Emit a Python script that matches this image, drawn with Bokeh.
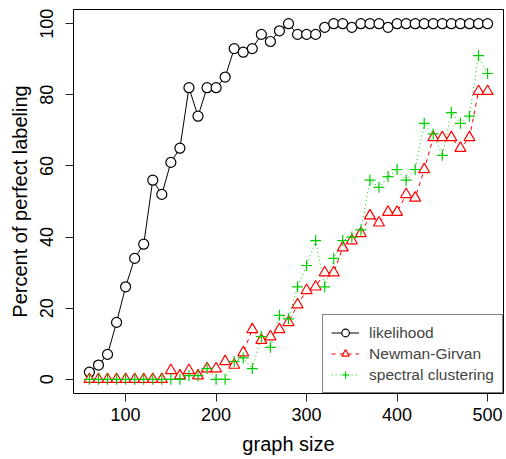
from bokeh.plotting import figure
from bokeh.models import Legend, LegendItem, Range1d, FixedTicker
from bokeh.embed import file_html
from bokeh.resources import INLINE

graph_size = [60, 70, 80, 90, 100, 110, 120, 130, 140, 150, 160, 170, 180, 190, 200,
              210, 220, 230, 240, 250, 260, 270, 280, 290, 300, 310, 320, 330, 340, 350,
              360, 370, 380, 390, 400, 410, 420, 430, 440, 450, 460, 470, 480, 490, 500]

likelihood = [2, 4, 7, 16, 26, 34, 38, 56, 52, 61, 65, 82, 74, 82, 82,
              85, 93, 92, 93, 97, 95, 98, 100, 97, 97, 97, 99, 100, 100, 99,
              100, 100, 100, 99, 100, 100, 100, 100, 100, 100, 100, 100, 100, 100, 100]

newman_girvan = [0, 0, 0, 0, 0, 0, 0, 0, 0, 2.5, 1, 2.5, 1, 3, 3,
                 5, 4, 7.5, 14, 11, 12, 14, 16, 21, 25, 26, 30, 30, 37, 39,
                 41, 46, 44, 47, 47, 52, 51, 59, 68, 68, 68, 65, 68, 81, 81]

spectral = [0, 0, 0, 0, 0, 0, 0, 0, 0, 0, 0, 1, 1, 3, 0,
            0, 5, 6, 3, 12, 9, 18, 17, 26, 32, 39, 26, 34, 39, 40,
            42, 56, 54, 57, 59, 56, 59, 72, 69, 63, 75, 72, 74, 91, 86]

x_ticks = [100, 200, 300, 400, 500]
y_ticks = [0, 20, 40, 60, 80, 100]

FONT = "Liberation Sans"
GREEN = "#00CD00"
RED = "#FF0000"

p = figure(width=506, height=459, output_backend="svg", toolbar_location=None,
           x_range=Range1d(42.4, 517.6), y_range=Range1d(-4, 104),
           min_border_left=73, min_border_right=3, min_border_top=9, min_border_bottom=66,
           x_axis_label="graph size", y_axis_label="Percent of perfect labeling")

p.grid.visible = False
p.outline_line_color = "black"
p.outline_line_width = 1
p.background_fill_color = "white"
p.border_fill_color = "white"

for ax in (p.xaxis[0], p.yaxis[0]):
    ax.axis_line_color = None
    ax.major_tick_out = 8
    ax.major_tick_in = 0
    ax.minor_tick_line_color = None
    ax.major_tick_line_color = "#222222"
    ax.major_label_text_font = FONT
    ax.major_label_text_font_size = "18px"
    ax.major_label_text_color = "black"
    ax.axis_label_text_font = FONT
    ax.axis_label_text_font_size = "20px"
    ax.axis_label_text_font_style = "normal"
    ax.axis_label_text_color = "black"

p.xaxis[0].ticker = FixedTicker(ticks=x_ticks)
p.yaxis[0].ticker = FixedTicker(ticks=y_ticks)
p.xaxis[0].major_label_standoff = 6
p.xaxis[0].axis_label_standoff = 9
p.yaxis[0].major_label_orientation = "vertical"
p.yaxis[0].major_label_standoff = 12
p.yaxis[0].axis_label_standoff = 7

# lines
l1 = p.line(graph_size, likelihood, line_color="black", line_width=1)
l2 = p.line(graph_size, newman_girvan, line_color=RED, line_width=1, line_dash="4 4")
l3 = p.line(graph_size, spectral, line_color=GREEN, line_width=1, line_dash="1 3")

# markers
m1 = p.scatter(graph_size, likelihood, marker="circle", size=10, line_color="black",
               fill_color="white", line_width=1.2)
m2 = p.scatter(graph_size, newman_girvan, marker="triangle", size=11, line_color=RED,
               fill_color="white", line_width=1.2)
m3 = p.scatter(graph_size, spectral, marker="cross", size=11, line_color=GREEN,
               line_width=1.2)

legend = Legend(items=[
    LegendItem(label="likelihood", renderers=[l1, m1]),
    LegendItem(label="Newman-Girvan", renderers=[l2, m2]),
    LegendItem(label="spectral clustering", renderers=[l3, m3]),
], location="bottom_right", margin=0, padding=8, spacing=2,
    glyph_width=28, glyph_height=19, label_height=19, label_standoff=10,
    label_text_font=FONT, label_text_font_size="15.5px",
    border_line_color="black", border_line_width=1,
    background_fill_color="white", background_fill_alpha=1)
p.add_layout(legend)

open("out.html", "w").write(file_html(p, INLINE))
